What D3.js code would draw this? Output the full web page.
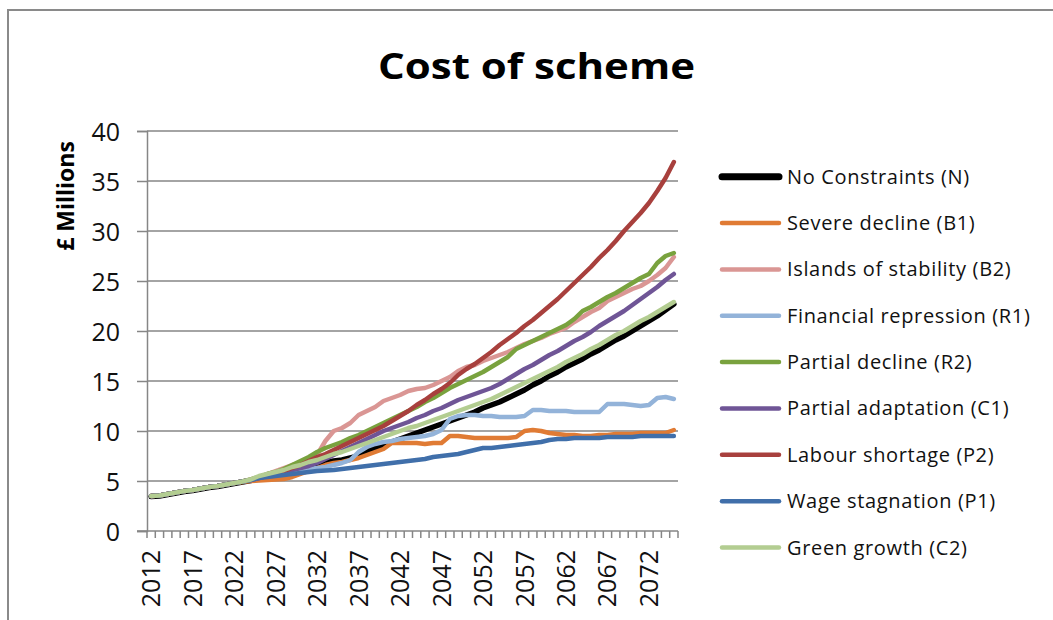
<!DOCTYPE html>
<html>
<head>
<meta charset="utf-8">
<script src="https://cdn.jsdelivr.net/npm/d3@7"></script>
<style>
  html, body { margin: 0; padding: 0; background: #fff; }
  svg { display: block; }
</style>
</head>
<body>
<svg id="chart" width="1053" height="620"></svg>
<script>
const title = "Cost of scheme";
const yAxisTitle = "£ Millions";
const years = d3.range(2012, 2076);
const xTickLabels = [2012, 2017, 2022, 2027, 2032, 2037, 2042, 2047, 2052, 2057, 2062, 2067, 2072];
const yTicks = [0, 5, 10, 15, 20, 25, 30, 35, 40];

const seriesNames = [
  "No Constraints (N)", "Severe decline (B1)", "Islands of stability (B2)",
  "Financial repression (R1)", "Partial decline (R2)", "Partial adaptation (C1)",
  "Labour shortage (P2)", "Wage stagnation (P1)", "Green growth (C2)"
];
const seriesColors = ["#000000", "#E07B34", "#DA9694", "#93B3D9", "#79A23E", "#6F5596", "#A8403D", "#406FAA", "#B3CD91"];

const noConstraints = [3.45,3.5,3.65,3.8,3.95,4.05,4.2,4.35,4.45,4.6,4.75,4.9,5.05,
  5.2,5.4,5.6,5.8,6.0,6.2,6.4,6.6,6.8,7.0,7.1,7.3,7.5,7.9,8.3,8.6,8.9,9.2,9.5,9.8,10.1,10.4,10.7,11.0,11.3,11.6,11.9,12.3,12.6,12.9,13.3,13.7,14.1,14.6,15.0,15.5,15.9,16.4,16.8,17.2,17.7,18.1,18.6,19.1,19.5,20.0,20.5,21.0,21.5,22.1,22.7];
const severeDecline = [3.5,3.55,3.7,3.85,4.0,4.1,4.25,4.4,4.5,4.65,4.8,4.9,5.0,
  5.05,5.1,5.15,5.2,5.4,5.7,6.0,6.3,6.6,6.8,6.9,7.1,7.3,7.6,7.9,8.2,8.8,8.8,8.8,8.8,8.7,8.8,8.8,9.5,9.5,9.4,9.3,9.3,9.3,9.3,9.3,9.4,10.0,10.1,10.0,9.8,9.7,9.6,9.6,9.5,9.5,9.6,9.6,9.7,9.7,9.7,9.8,9.8,9.8,9.8,10.1];
const islandsOfStability = [3.5,3.55,3.7,3.85,4.0,4.1,4.25,4.4,4.5,4.65,4.8,4.95,5.15,
  5.4,5.7,6.0,6.3,6.6,6.8,7.2,7.6,9.0,10.0,10.3,10.8,11.6,12.0,12.4,13.0,13.3,13.6,14.0,14.2,14.3,14.6,15.0,15.4,16.0,16.4,16.6,17.0,17.3,17.6,17.9,18.3,18.7,19.0,19.3,19.7,20.0,20.3,20.9,21.4,21.9,22.3,23.0,23.4,23.8,24.2,24.5,25.0,25.6,26.3,27.4];
const financialRepression = [3.5,3.55,3.7,3.85,4.0,4.1,4.25,4.4,4.5,4.65,4.8,4.95,5.1,
  5.3,5.5,5.7,5.8,6.0,6.1,6.2,6.3,6.4,6.6,6.8,7.1,7.9,8.4,8.7,8.9,9.0,9.2,9.3,9.4,9.5,9.7,10.1,11.2,11.5,11.6,11.6,11.5,11.5,11.4,11.4,11.4,11.5,12.1,12.1,12.0,12.0,12.0,11.9,11.9,11.9,11.9,12.7,12.7,12.7,12.6,12.5,12.6,13.3,13.4,13.2];
const partialDecline = [3.5,3.55,3.7,3.85,4.0,4.1,4.25,4.4,4.5,4.65,4.8,4.95,5.15,
  5.4,5.7,5.9,6.2,6.6,7.0,7.4,7.9,8.3,8.6,8.9,9.3,9.6,10.0,10.4,10.8,11.2,11.6,12.0,12.4,12.9,13.3,13.8,14.3,14.7,15.1,15.5,15.9,16.4,16.9,17.4,18.2,18.6,19.0,19.4,19.8,20.2,20.6,21.2,22.0,22.4,22.9,23.4,23.8,24.3,24.8,25.3,25.7,26.8,27.5,27.8];
const partialAdaptation = [3.5,3.55,3.7,3.85,4.0,4.1,4.25,4.4,4.5,4.65,4.8,4.95,5.1,
  5.3,5.5,5.7,5.9,6.1,6.3,6.5,6.8,7.2,7.6,8.0,8.4,8.8,9.2,9.6,10.0,10.3,10.6,10.9,11.3,11.6,12.0,12.3,12.7,13.1,13.4,13.7,14.0,14.3,14.7,15.2,15.7,16.2,16.6,17.1,17.6,18.0,18.5,19.0,19.4,19.9,20.5,21.0,21.5,22.0,22.6,23.2,23.8,24.4,25.1,25.7];
const labourShortage = [3.5,3.55,3.7,3.85,4.0,4.1,4.25,4.4,4.5,4.65,4.8,4.95,5.1,
  5.3,5.5,5.8,6.0,6.3,6.6,7.0,7.4,7.7,8.1,8.5,8.9,9.3,9.7,10.1,10.5,11.0,11.5,12.0,12.6,13.1,13.7,14.2,14.8,15.6,16.2,16.7,17.3,17.9,18.6,19.2,19.8,20.5,21.1,21.8,22.5,23.2,24.0,24.8,25.6,26.4,27.3,28.1,29.0,30.0,30.9,31.8,32.8,34.0,35.3,36.9];
const wageStagnation = [3.5,3.55,3.7,3.85,4.0,4.1,4.25,4.4,4.5,4.65,4.8,4.95,5.1,
  5.3,5.4,5.5,5.6,5.7,5.8,5.9,6.0,6.05,6.1,6.2,6.3,6.4,6.5,6.6,6.7,6.8,6.9,7.0,7.1,7.2,7.4,7.5,7.6,7.7,7.9,8.1,8.3,8.3,8.4,8.5,8.6,8.7,8.8,8.9,9.1,9.2,9.2,9.3,9.3,9.3,9.3,9.4,9.4,9.4,9.4,9.5,9.5,9.5,9.5,9.5];
const greenGrowth = [3.5,3.55,3.7,3.85,4.0,4.1,4.25,4.4,4.5,4.65,4.8,4.95,5.15,
  5.5,5.7,5.9,6.1,6.4,6.6,6.9,7.1,7.4,7.7,7.9,8.2,8.5,8.8,9.1,9.4,9.7,10.0,10.3,10.5,10.8,11.1,11.4,11.7,12.0,12.3,12.6,12.9,13.2,13.6,14.0,14.4,14.8,15.2,15.6,16.0,16.4,16.9,17.3,17.7,18.2,18.6,19.1,19.6,20.0,20.5,21.0,21.4,21.9,22.4,22.9];

const seriesValues = [noConstraints, severeDecline, islandsOfStability, financialRepression,
  partialDecline, partialAdaptation, labourShortage, wageStagnation, greenGrowth];

const svg = d3.select("#chart");
const W = 1053, H = 620;
const plot = { left: 147, right: 678, top: 131, bottom: 531 };
const FONT = "'Open Sans', 'Noto Sans', sans-serif";
const GRID = "#868686";

// outer frame
svg.append("rect").attr("x", 8).attr("y", 10).attr("width", W + 20).attr("height", H + 20)
  .attr("fill", "#fff").attr("stroke", "#8a8a8a").attr("stroke-width", 2);

const x = d3.scaleBand().domain(years).range([plot.left, plot.right]).padding(0);
const y = d3.scaleLinear().domain([0, 40]).range([plot.bottom, plot.top]);

// gridlines
svg.append("g").selectAll("line").data(yTicks.filter(d => d > 0)).join("line")
  .attr("x1", plot.left).attr("x2", plot.right)
  .attr("y1", d => y(d)).attr("y2", d => y(d))
  .attr("stroke", GRID).attr("stroke-width", 1.5);

// y axis
const yAxis = d3.axisLeft(y).tickValues(yTicks).tickSize(10).tickPadding(17).tickFormat(d3.format("d"));
const gy = svg.append("g").attr("transform", `translate(${plot.left},0)`).call(yAxis);
gy.select(".domain").attr("stroke", GRID).attr("stroke-width", 1.5);
gy.selectAll(".tick line").attr("stroke", GRID).attr("stroke-width", 1.5);
gy.selectAll(".tick text").attr("font-family", FONT).attr("font-size", 25).attr("fill", "#111").attr("dy", "0.36em");

// x axis baseline and ticks at category boundaries
svg.append("line").attr("x1", plot.left - 10).attr("x2", plot.right)
  .attr("y1", plot.bottom).attr("y2", plot.bottom).attr("stroke", GRID).attr("stroke-width", 1.5);
const boundaries = years.map(yr => x(yr)).concat([x(years[years.length - 1]) + x.bandwidth()]);
svg.append("g").selectAll("line").data(boundaries).join("line")
  .attr("x1", d => d).attr("x2", d => d)
  .attr("y1", plot.bottom).attr("y2", plot.bottom + 7)
  .attr("stroke", GRID).attr("stroke-width", 1.5);

// x labels
svg.append("g").selectAll("text").data(xTickLabels).join("text")
  .attr("transform", d => `translate(${x(d) + x.bandwidth() / 2 + 9},${plot.bottom + 19}) rotate(-90)`)
  .attr("text-anchor", "end")
  .attr("font-family", FONT).attr("font-size", 25).attr("fill", "#111")
  .text(d => d);

// lines
const line = d3.line().x((d, i) => x(years[i]) + x.bandwidth() / 2).y(d => y(d));
svg.append("g").selectAll("path").data(seriesValues).join("path")
  .attr("d", d => line(d))
  .attr("fill", "none")
  .attr("stroke", (d, i) => seriesColors[i])
  .attr("stroke-width", (d, i) => i === 0 ? 5.5 : 4.5)
  .attr("stroke-linejoin", "round").attr("stroke-linecap", "round");

// title
svg.append("text").attr("x", 378).attr("y", 79)
  .attr("font-family", FONT).attr("font-weight", "bold").attr("font-size", 36)
  .attr("textLength", 317).attr("lengthAdjust", "spacingAndGlyphs")
  .attr("fill", "#000").text(title);

// y axis title
svg.append("text").attr("transform", "translate(74,196) rotate(-90)")
  .attr("text-anchor", "middle")
  .attr("font-family", FONT).attr("font-weight", "bold").attr("font-size", 23)
  .attr("fill", "#000").text(yAxisTitle);

// legend
const legend = svg.append("g");
const rowY = i => 176.7 + i * 46.35;
legend.selectAll("line").data(seriesNames).join("line")
  .attr("x1", 722).attr("x2", 779)
  .attr("y1", (d, i) => rowY(i)).attr("y2", (d, i) => rowY(i))
  .attr("stroke", (d, i) => seriesColors[i])
  .attr("stroke-width", (d, i) => i === 0 ? 7 : 4.5)
  .attr("stroke-linecap", "round");
legend.selectAll("text").data(seriesNames).join("text")
  .attr("x", 787).attr("y", (d, i) => rowY(i) + 7)
  .attr("font-family", FONT).attr("font-size", 20).attr("letter-spacing", "0.65px")
  .attr("fill", "#111").text(d => d);
</script>
</body>
</html>
